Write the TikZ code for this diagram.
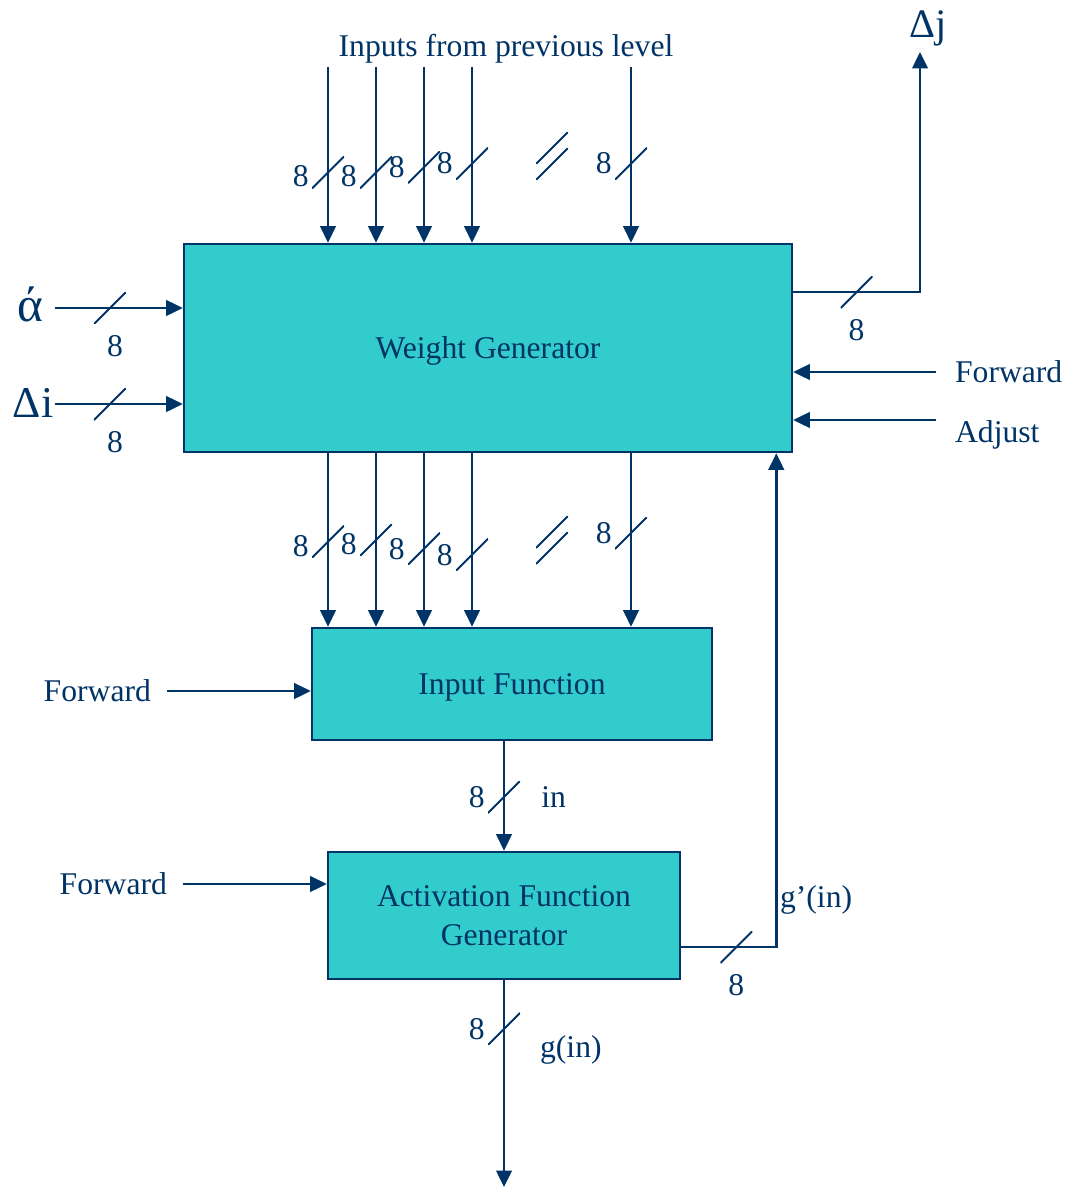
\documentclass[tikz,border=0pt]{standalone}
\usepackage{fontspec}
\setmainfont{Liberation Serif}
\usetikzlibrary{positioning, calc, arrows.meta}
\definecolor{navy}{RGB}{0,51,102}
\definecolor{tealfill}{RGB}{51,204,204}
\tikzset{
  % Blocks and signals
  block/.style    = { draw=navy, line width=1.5pt, fill=tealfill, align=center,
                       text=navy, font=\fontsize{18}{22}\selectfont, inner sep=0, text depth=0pt },
  bus/.style      = { navy, line width=1.45pt, -{Triangle[length=0.33cm, width=0.31cm]} },
  busmark/.style  = { minimum size=0.64cm, inner sep=0,
                       path picture = {
                         \draw[-, navy, line width=1.1pt] (path picture bounding box.south west)
                           -- (path picture bounding box.north east);
                       } },
  buslabel/.style = { text=navy, font=\fontsize{18}{22}\selectfont, inner sep=1pt },
  siglabel/.style = { text=navy, font=\fontsize{18}{22}\selectfont, inner sep=1pt },
  biglabel/.style = { text=navy, inner sep=0 }
}
\begin{document}
\begin{tikzpicture}[x=0.02cm, y=-0.02cm]
  \useasboundingbox (0,0) rectangle (1087,1193);

  \node[block, minimum width=12.16cm, minimum height=4.16cm] (wgen) at (488,348) {Weight Generator};
  \node[block, minimum width=8cm, minimum height=2.24cm] (infn) at (512,684) {Input Function};
  \node[block, minimum width=7.04cm, minimum height=2.54cm] (actgen) at (504,915.5) {Activation Function\\Generator};

  % inputs from previous level
  \node[siglabel] (inputs) at (506,49) {Inputs from previous level};
  \coordinate (in1) at (328,67);
  \coordinate (in2) at (376,67);
  \coordinate (in3) at (424,67);
  \coordinate (in4) at (472,67);
  \coordinate (in5) at (631,67);
  \draw[bus] (in1) -- (in1 |- wgen.north) node[busmark, pos=0.6] (s1) {};
  \draw[bus] (in2) -- (in2 |- wgen.north) node[busmark, pos=0.6] (s2) {};
  \draw[bus] (in3) -- (in3 |- wgen.north) node[busmark, pos=0.57] (s3) {};
  \draw[bus] (in4) -- (in4 |- wgen.north) node[busmark, pos=0.55] (s4) {};
  \draw[bus] (in5) -- (in5 |- wgen.north) node[busmark, pos=0.55] (s5) {};
  \node[busmark] (sdots1) at (552,148) {};
  \node[busmark] (sdots2) at (552,164) {};
  \node[buslabel, left=0pt of s1, yshift=-0.08cm] (ns1) {8};
  \node[buslabel, left=0pt of s2, yshift=-0.08cm] (ns2) {8};
  \node[buslabel, left=0pt of s3] (ns3) {8};
  \node[buslabel, left=0pt of s4] (ns4) {8};
  \node[buslabel, left=0pt of s5] (ns5) {8};

  % weights to input function
  \draw[bus] (wgen.south -| in1) -- (infn.north -| in1) node[busmark, pos=0.51] (w1) {};
  \draw[bus] (wgen.south -| in2) -- (infn.north -| in2) node[busmark, pos=0.5] (w2) {};
  \draw[bus] (wgen.south -| in3) -- (infn.north -| in3) node[busmark, pos=0.55] (w3) {};
  \draw[bus] (wgen.south -| in4) -- (infn.north -| in4) node[busmark, pos=0.585] (w4) {};
  \draw[bus] (wgen.south -| in5) -- (infn.north -| in5) node[busmark, pos=0.46] (w5) {};
  \node[busmark] (wdots1) at (552,532) {};
  \node[busmark] (wdots2) at (552,548) {};
  \node[buslabel, left=0pt of w1, yshift=-0.08cm] (nw1) {8};
  \node[buslabel, left=0pt of w2, yshift=-0.08cm] (nw2) {8};
  \node[buslabel, left=0pt of w3] (nw3) {8};
  \node[buslabel, left=0pt of w4] (nw4) {8};
  \node[buslabel, left=0pt of w5] (nw5) {8};

  % left inputs
  \coordinate (ain) at (55,308);
  \coordinate (din) at (55,404);
  \node[biglabel, font=\fontsize{28}{32}\selectfont] (alpha) at (30,304) {ά};
  \node[biglabel, font=\fontsize{25}{30}\selectfont] (deltai) at (33,403) {Δi};
  \draw[bus] (ain) -- (ain -| wgen.west) node[busmark, pos=0.43] (sa) {};
  \draw[bus] (din) -- (din -| wgen.west) node[busmark, pos=0.43] (sd) {};
  \node[buslabel, below=0.17cm of sa, xshift=0.1cm] (na) {8};
  \node[buslabel, below=0.17cm of sd, xshift=0.1cm] (nd) {8};

  % right side
  \coordinate (dj) at (920,52);
  \node[biglabel, font=\fontsize{23}{27}\selectfont] (deltaj) at (928,28) {Δj};
  \draw[bus] ([yshift=1.12cm]wgen.east) -| (dj) node[busmark, pos=0.25] (sj) {};
  \node[buslabel, below=0.17cm of sj] (nj) {8};

  \coordinate (fwdw) at (936,372);
  \coordinate (adjw) at (936,420);
  \draw[bus] (fwdw) -- (fwdw -| wgen.east);
  \draw[bus] (adjw) -- (adjw -| wgen.east);
  \node[siglabel, right=0.34cm of fwdw] (fwdwt) {Forward};
  \node[siglabel, right=0.34cm of adjw, yshift=-0.3cm] (adjwt) {Adjust};

  % control inputs of lower blocks
  \coordinate (fwdi) at (167,691);
  \coordinate (fwda) at (183,884);
  \draw[bus] (fwdi) -- (fwdi -| infn.west);
  \draw[bus] (fwda) -- (fwda -| actgen.west);
  \node[siglabel, left=0.28cm of fwdi] (fwdit) {Forward};
  \node[siglabel, left=0.28cm of fwda] (fwdat) {Forward};

  % input function to activation
  \draw[bus] (infn.south -| actgen.north) -- (actgen.north) node[busmark, pos=0.51] (sin) {};
  \node[buslabel, left=0pt of sin] (nin) {8};
  \node[siglabel, right=0.36cm of sin] (inlbl) {in};

  % derivative fed back
  \draw[bus] ([yshift=-0.63cm]actgen.east) -| ([xshift=-0.34cm]wgen.south east) node[busmark, pos=0.29] (sg) {};
  \node[buslabel, below=0.17cm of sg] (ng) {8};
  \node[siglabel, anchor=west] (gplbl) at (778,900) {g’(in)};

  % output
  \coordinate (gout) at (504,1187);
  \draw[bus] (actgen.south) -- (gout) node[busmark, pos=0.235] (sout) {};
  \node[buslabel, left=0pt of sout] (nout) {8};
  \node[siglabel, anchor=west] (glbl) at (538,1050) {g(in)};

\end{tikzpicture}
\end{document}
